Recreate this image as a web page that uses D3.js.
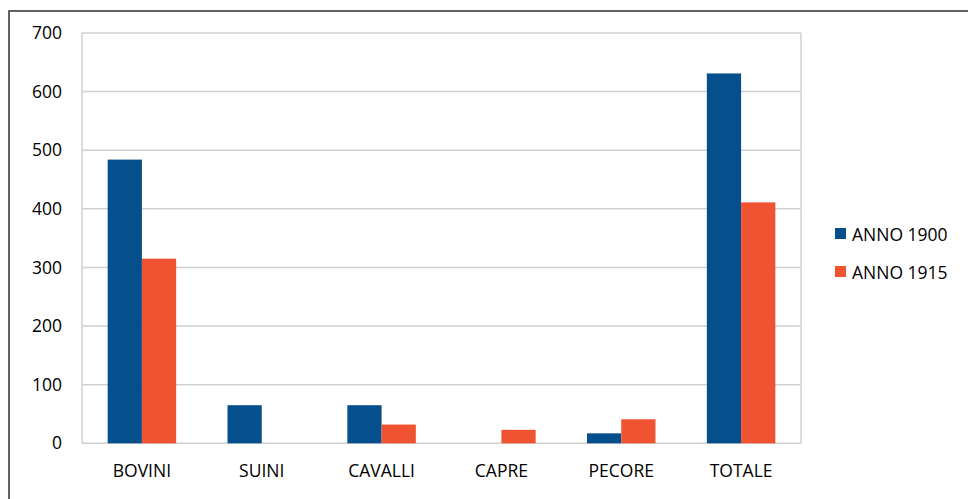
<!DOCTYPE html>
<html>
<head>
<meta charset="utf-8">
<script src="https://cdn.jsdelivr.net/npm/d3@7"></script>
<style>
  html, body { margin: 0; padding: 0; background: #fff; }
  svg { display: block; }
  text { font-family: "Open Sans", "Noto Sans", sans-serif; fill: #000; }
</style>
</head>
<body>
<svg id="chart" width="968" height="499"></svg>
<script>
const categories = ["BOVINI", "SUINI", "CAVALLI", "CAPRE", "PECORE", "TOTALE"];
const seriesNames = ["ANNO 1900", "ANNO 1915"];
const values1900 = [484, 65, 65, 0, 17, 631];
const values1915 = [315, 0, 32, 23, 41, 411];
const yTicks = [0, 100, 200, 300, 400, 500, 600, 700];
const colors = ["#044f8c", "#f05331"];

const svg = d3.select("#chart");
const W = 968, H = 499;
const plot = { left: 82, right: 801, top: 33, bottom: 443.3 };
const fontSize = "17.5px";

// outer frame (cropped at right and bottom)
svg.append("rect")
  .attr("x", 9).attr("y", 11)
  .attr("width", W + 20).attr("height", H + 20)
  .attr("fill", "none").attr("stroke", "#3c3c3c").attr("stroke-width", 1.6);

const y = d3.scaleLinear().domain([0, 700]).range([plot.bottom, plot.top]);
const x0 = d3.scaleBand().domain(categories).range([plot.left, plot.right]).padding(0);
const x1 = d3.scaleBand().domain(seriesNames).range([0, x0.bandwidth()])
  .paddingInner(0).paddingOuter(0.75);

// gridlines
svg.append("g").selectAll("line").data(yTicks).join("line")
  .attr("x1", plot.left).attr("x2", plot.right)
  .attr("y1", d => y(d)).attr("y2", d => y(d))
  .attr("stroke", "#d0d0d0").attr("stroke-width", 1.5);

// plot area border sides
svg.append("line").attr("x1", plot.left).attr("x2", plot.left)
  .attr("y1", plot.top).attr("y2", plot.bottom)
  .attr("stroke", "#d0d0d0").attr("stroke-width", 1.5);
svg.append("line").attr("x1", plot.right).attr("x2", plot.right)
  .attr("y1", plot.top).attr("y2", plot.bottom)
  .attr("stroke", "#d0d0d0").attr("stroke-width", 1.5);

// y axis labels
const yAxis = d3.axisLeft(y).tickValues(yTicks).tickSize(0).tickPadding(0);
const gy = svg.append("g").attr("transform", `translate(${plot.left - 20},0)`).call(yAxis);
gy.select(".domain").remove();
gy.selectAll("text").style("font-size", fontSize).attr("fill", "#000")
  .style("font-family", '"Open Sans", sans-serif');

// x axis labels
const xAxis = d3.axisBottom(x0).tickSize(0).tickPadding(0);
const gx = svg.append("g").attr("transform", `translate(0,${plot.bottom + 21})`).call(xAxis);
gx.select(".domain").remove();
gx.selectAll("text").style("font-size", fontSize).attr("fill", "#000")
  .style("font-family", '"Open Sans", sans-serif');

// bars
const series = [values1900, values1915];
const g = svg.append("g");
categories.forEach((c, i) => {
  seriesNames.forEach((s, j) => {
    const v = series[j][i];
    if (v <= 0) return;
    g.append("rect")
      .attr("x", x0(c) + x1(s))
      .attr("y", y(v))
      .attr("width", x1.bandwidth())
      .attr("height", y(0) - y(v))
      .attr("fill", colors[j]);
  });
});

// legend
const legend = svg.append("g").attr("transform", "translate(835,228)");
seriesNames.forEach((s, j) => {
  const item = legend.append("g").attr("transform", `translate(0,${j * 38})`);
  item.append("rect").attr("x", 0).attr("y", 0).attr("width", 11).attr("height", 11)
    .attr("fill", colors[j]);
  item.append("text").attr("x", 17).attr("y", 12.7)
    .style("font-size", fontSize).text(s);
});
</script>
</body>
</html>
